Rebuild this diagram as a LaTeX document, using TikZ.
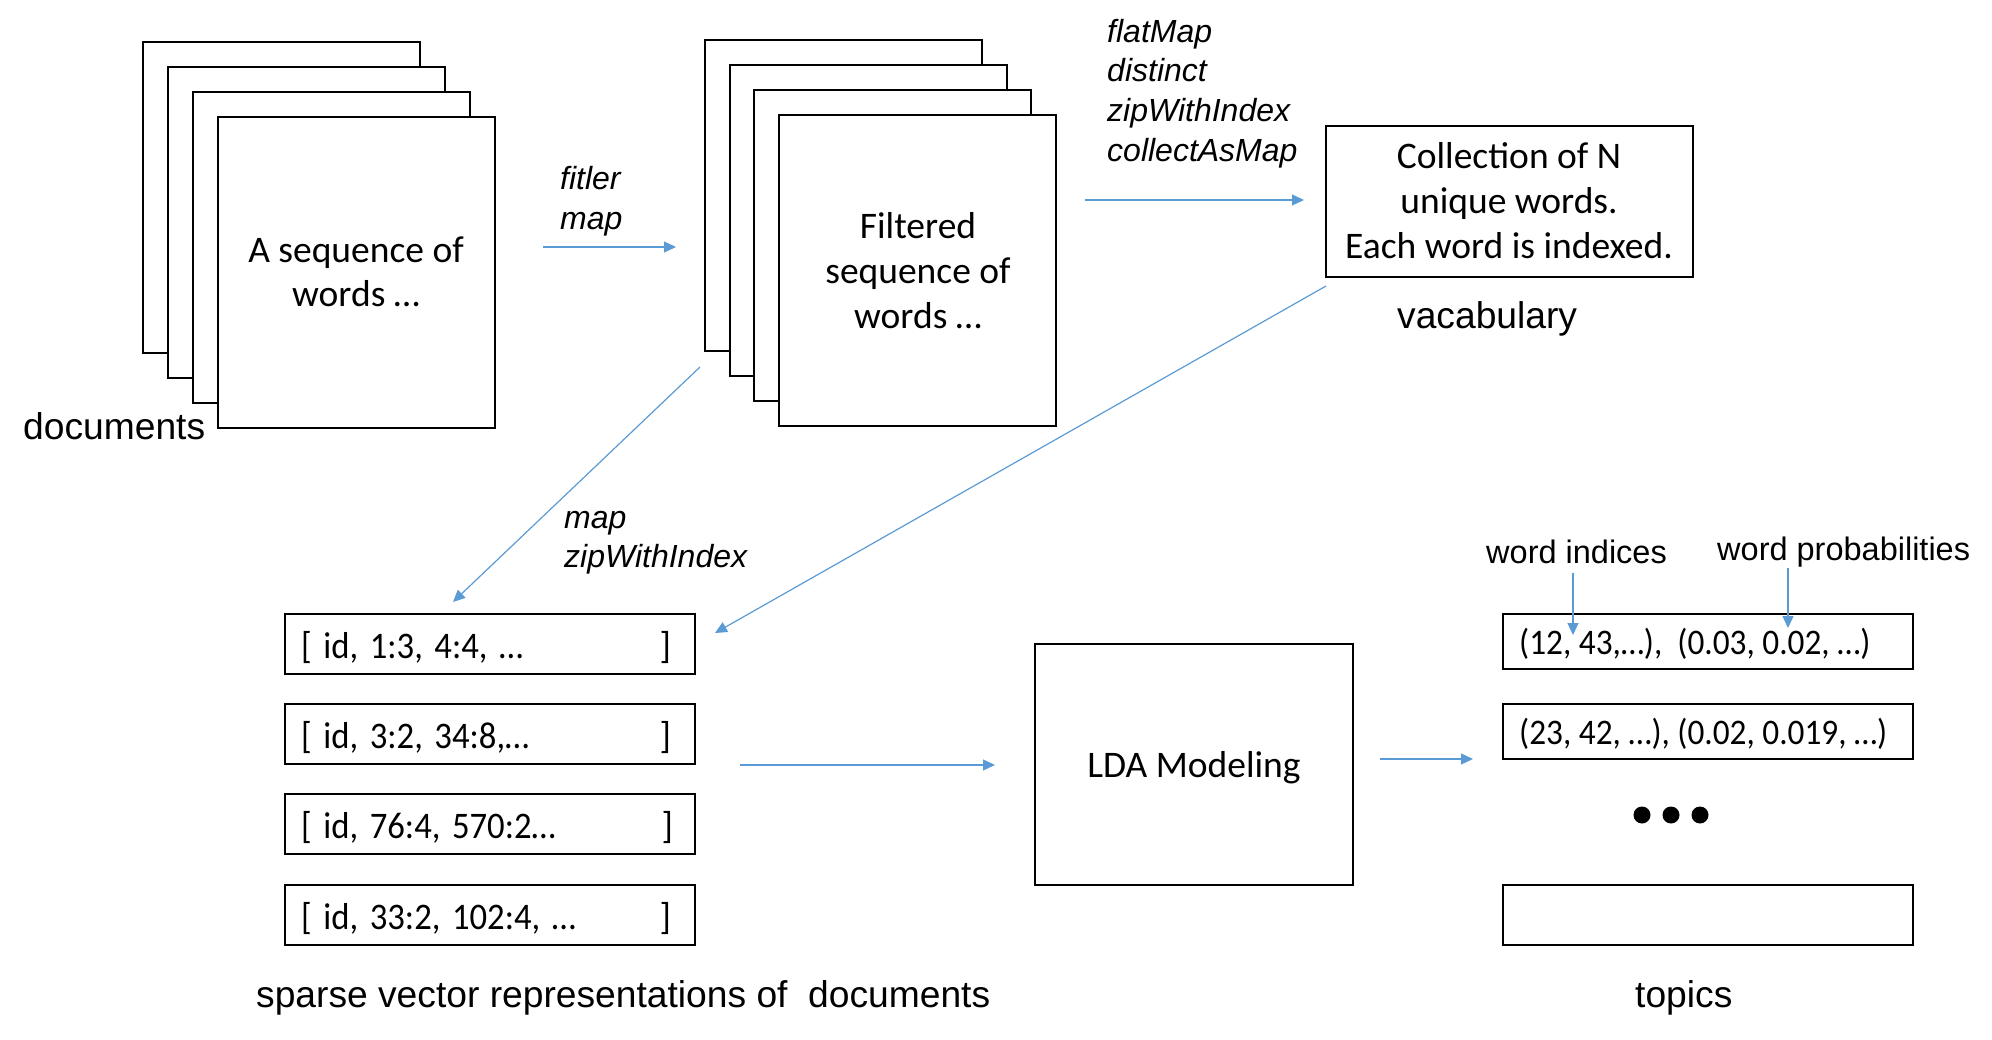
\documentclass[tikz,border=0pt]{standalone}
\usepackage{fontspec}
\setmainfont{Carlito}
\newfontfamily\arialf{Liberation Sans}
\usetikzlibrary{arrows.meta}
\definecolor{ablue}{HTML}{5B9BD5}
\frenchspacing
\newcommand\narrowtxt[1]{\scalebox{0.925}[1]{#1}}
\tikzset{
  box/.style={draw=black, line width=2.5pt, fill=white, anchor=north west, inner sep=0pt, outer sep=0pt},
  btxt/.style={font=\frenchspacing\fontsize{37.5}{45}\selectfont, inner sep=0pt, anchor=base},
  ttxt/.style={font=\frenchspacing\fontsize{36}{44}\selectfont, inner sep=0pt, anchor=base west},
  lbl/.style={font=\arialf\fontsize{37.2}{44}\selectfont, inner sep=0pt, anchor=base west},
  slbl/.style={font=\arialf\fontsize{32.5}{40}\selectfont, inner sep=0pt, anchor=base west},
  ilbl/.style={font=\arialf\itshape\fontsize{32}{40}\selectfont, inner sep=0pt, anchor=base west},
  conn/.style={draw=ablue, line width=1.2pt, -{Triangle[length=12pt,width=11pt]}},
  dot/.style={circle, fill=black, minimum size=17pt, inner sep=0pt}
}
\begin{document}
\begin{tikzpicture}[x=1pt,y=-1pt]
\useasboundingbox (0,0) rectangle (1992,1040);
% document stack
\node[box, minimum width=277pt, minimum height=311pt] (d1) at (143,42) {};
\node[box, minimum width=277pt, minimum height=311pt] (d2) at (168,67) {};
\node[box, minimum width=277pt, minimum height=311pt] (d3) at (193,92) {};
\node[box, minimum width=277pt, minimum height=311pt] (d4) at (218,117) {};
\node[btxt] (dt1) at (356,263) {A sequence of};
\node[btxt] (dt2) at (356,307) {words …};
\node[lbl] (doclbl) at (23,439) {documents};
% filtered stack
\node[box, minimum width=277pt, minimum height=311pt] (f1) at (705,40) {};
\node[box, minimum width=277pt, minimum height=311pt] (f2) at (730,65) {};
\node[box, minimum width=277pt, minimum height=311pt] (f3) at (754,90) {};
\node[box, minimum width=277pt, minimum height=311pt] (f4) at (779,115) {};
\node[btxt] (ft1) at (918,239) {Filtered};
\node[btxt] (ft2) at (918,284) {sequence of};
\node[btxt] (ft3) at (918,329) {words …};
% vocabulary
\node[box, minimum width=367pt, minimum height=151pt] (voc) at (1326,126) {};
\node[btxt] (vt1) at (1509,169) {Collection of N};
\node[btxt] (vt2) at (1509,214) {unique words.};
\node[btxt] (vt3) at (1509,259) {Each word is indexed.};
\node[lbl] (voclbl) at (1397,329) {vacabulary};
% italic operation labels
\node[ilbl] (op1) at (560,190) {fitler};
\node[ilbl] (op2) at (560,230) {map};
\node[ilbl] (op3) at (1107,43) {flatMap};
\node[ilbl] (op4) at (1107,82) {distinct};
\node[ilbl] (op5) at (1107,122) {zipWithIndex};
\node[ilbl] (op6) at (1107,162) {collectAsMap};
\node[ilbl] (op7) at (564,528) {map};
\node[ilbl] (op8) at (564,567) {zipWithIndex};
% sparse vectors
\node[box, minimum width=410pt, minimum height=60pt] (s1) at (285,614) {};
\node[box, minimum width=410pt, minimum height=60pt] (s2) at (285,704) {};
\node[box, minimum width=410pt, minimum height=60pt] (s3) at (285,794) {};
\node[box, minimum width=410pt, minimum height=60pt] (s4) at (285,885) {};
\node[btxt, anchor=base west, text width=370pt] (st1) at (301,658) {\narrowtxt{[ id, 1:3, 4:4, …}\hfill]};
\node[btxt, anchor=base west, text width=370pt] (st2) at (301,748) {\narrowtxt{[ id, 3:2, 34:8,…}\hfill]};
\node[btxt, anchor=base west, text width=372pt] (st3) at (301,838) {\narrowtxt{[ id, 76:4, 570:2…}\hfill]};
\node[btxt, anchor=base west, text width=370pt] (st4) at (301,929) {\narrowtxt{[ id, 33:2, 102:4, …}\hfill]};
\node[lbl] (splbl) at (256,1007) {sparse vector representations of \ documents};
% LDA
\node[box, minimum width=318pt, minimum height=241pt] (lda) at (1035,644) {};
\node[btxt] (ldat) at (1194,777) {LDA Modeling};
% topics
\node[box, minimum width=410pt, minimum height=55pt] (t1) at (1503,614) {};
\node[box, minimum width=410pt, minimum height=55pt] (t2) at (1503,704) {};
\node[box, minimum width=410pt, minimum height=60pt] (t4) at (1503,885) {};
\node[ttxt] (tt1) at (1519,654) {\narrowtxt{(12, 43,…), \ (0.03, 0.02, …)}};
\node[ttxt] (tt2) at (1519,744) {\narrowtxt{(23, 42, …), (0.02, 0.019, …)}};
\node[dot] (dot1) at (1642,815) {};
\node[dot] (dot2) at (1671,815) {};
\node[dot] (dot3) at (1700,815) {};
\node[lbl] (toplbl) at (1635,1007) {topics};
\node[slbl] (wi) at (1486,563) {word indices};
\node[slbl] (wp) at (1717,560) {word probabilities};
% connector end points
\coordinate (a1s) at (543,247); \coordinate (a1e) at (676,247);
\coordinate (a2s) at (1085,200); \coordinate (a2e) at (1304,200);
\coordinate (a3s) at (700,367); \coordinate (a3e) at (453,602);
\coordinate (a4s) at (1326,286); \coordinate (a4e) at (715,633);
\coordinate (a5s) at (740,765); \coordinate (a5e) at (995,765);
\coordinate (a6s) at (1380,759); \coordinate (a6e) at (1473,759);
\coordinate (a7s) at (1573,573); \coordinate (a7e) at (1573,635);
\coordinate (a8s) at (1788,568); \coordinate (a8e) at (1788,628);
\draw[conn] (a1s) -- (a1e);
\draw[conn] (a2s) -- (a2e);
\draw[conn] (a3s) -- (a3e);
\draw[conn] (a4s) -- (a4e);
\draw[conn] (a5s) -- (a5e);
\draw[conn] (a6s) -- (a6e);
\draw[conn] (a7s) -- (a7e);
\draw[conn] (a8s) -- (a8e);
\end{tikzpicture}
\end{document}
